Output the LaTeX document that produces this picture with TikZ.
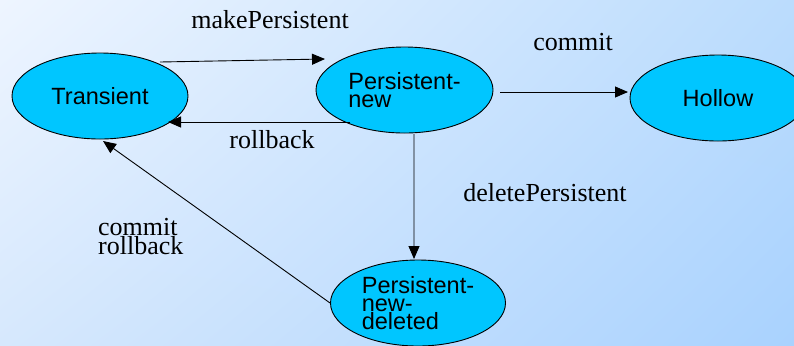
\documentclass[tikz,border=0pt]{standalone}
\usepackage{fontspec}
\setmainfont{Liberation Serif}
\newfontfamily\nodefont{Liberation Sans}
\usetikzlibrary{shapes.geometric,arrows.meta,shadings}
\definecolor{bgUL}{RGB}{238,245,255}
\definecolor{bgUR}{RGB}{187,220,253}
\definecolor{bgLL}{RGB}{214,232,253}
\definecolor{bgLR}{RGB}{169,210,254}
\definecolor{statefill}{RGB}{0,198,255}
\tikzset{
  state/.style={ellipse, draw=black, line width=0.9bp, fill=statefill,
    minimum width=176bp, minimum height=86bp, inner sep=0pt, align=left,
    font=\nodefont\fontsize{23.5bp}{18bp}\selectfont},
  conn/.style={line width=0.9bp, -{Triangle[length=13bp,width=11bp]}},
  lbl/.style={font=\fontsize{26bp}{19bp}\selectfont, inner sep=0pt, align=left}
}
\begin{document}
\begin{tikzpicture}[x=1bp,y=-1bp]
\useasboundingbox (0,0) rectangle (794,345);
\shade[upper left=bgUL, upper right=bgUR, lower left=bgLL, lower right=bgLR] (0,0) rectangle (794,345);
\node[state] (tn) at (100,96) {Transient};
\node[state, minimum width=177bp] (pn) at (404.5,90) {Persistent-\\new};
\node[state] (hn) at (718,98) {Hollow};
\node[state, minimum width=175bp] (dn) at (418,303) {Persistent-\\new-\\deleted};
\draw[conn] ([shift={(60,-34)}]tn.center) -- ([shift={(-79.5,-31)}]pn.center);
\draw[conn] ([shift={(-54.5,32)}]pn.center) -- ([shift={(68,26)}]tn.center);
\draw[conn] ([shift={(95.5,2)}]pn.center) -- ([shift={(-90,-6)}]hn.center);
\draw[conn] ([shift={(9.5,44)}]pn.center) -- ([shift={(-4,-44)}]dn.center);
\draw[conn] (dn.west) -- ([shift={(3,45)}]tn.center);
\node[lbl] (l1) at (270,20) {makePersistent};
\node[lbl] (l2) at (272,140) {rollback};
\node[lbl] (l3) at (573,42) {commit};
\node[lbl] (l4) at (545,193) {deletePersistent};
\node[lbl, anchor=west] (l5) at (98,237) {commit\\rollback};
\end{tikzpicture}
\end{document}
